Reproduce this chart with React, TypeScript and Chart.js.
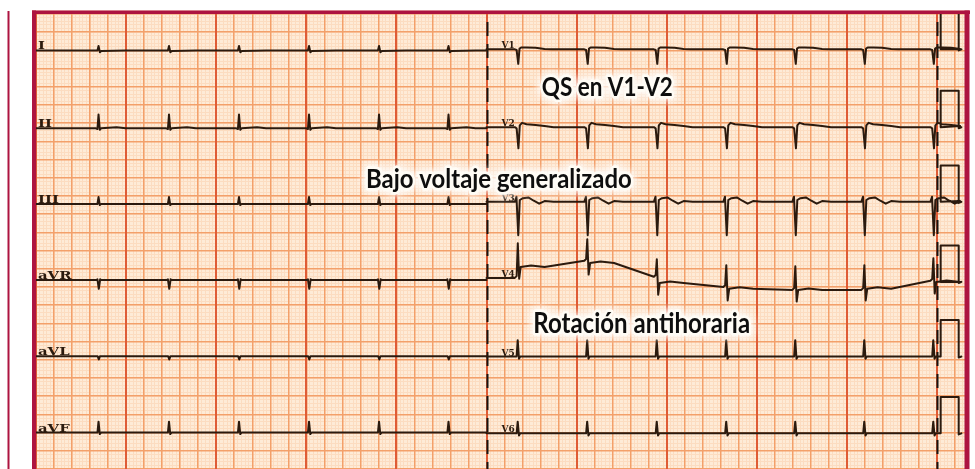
import React, { useEffect, useRef } from "react";
import { Chart, registerables } from "chart.js";

Chart.register(...registerables);

// ---------------- data (time in seconds, amplitude in mV) ----------------
const LEFT_LEADS = ["I", "II", "III", "aVR", "aVL", "aVF"];
const RIGHT_LEADS = ["V1", "V2", "V3", "V4", "V5", "V6"];

// baseline level of each row on the paper (mV from the bottom edge)
const LEFT_BASELINES = [11.5, 9.36, 7.28, 5.19, 3.1, 1.0];
const RIGHT_BASELINES = [11.53, 9.39, 7.34, 5.25, 3.09, 0.98];

// R-wave times (s)
const LEFT_BEATS = [0.694, 1.476, 2.253, 3.03, 3.807, 4.578];
const RIGHT_BEATS = [5.344, 6.115, 6.887, 7.658, 8.424, 9.19, 9.956];

const LEFT_START = 0;
const LEFT_END = 5;
const RIGHT_START = 5;
const CAL_ON = 10.04;
const CAL_OFF = 10.24;
const RIGHT_END = 10.27;
const CAL_MV = 1.0;

// one complex per lead: [time offset from R (s), amplitude (mV)]
const T_I = [[-0.03, 0], [-0.012, 0], [0.0, 0.12], [0.015, -0.05], [0.03, -0.015], [0.3, 0]];
const T_II = [[-0.03, 0], [-0.012, -0.02], [0.0, 0.38], [0.014, -0.04], [0.028, 0], [0.2, 0.03], [0.3, 0]];
const T_III = [[-0.03, 0], [-0.012, 0], [0.0, 0.19], [0.014, -0.03], [0.028, 0], [0.3, 0]];
const T_AVR = [[-0.03, 0], [-0.012, 0.02], [0.003, -0.24], [0.018, 0.02], [0.03, 0], [0.3, 0]];
const T_AVL = [[-0.03, 0], [-0.01, 0], [0.003, -0.09], [0.016, 0], [0.3, 0]];
const T_AVF = [[-0.03, 0], [-0.012, 0], [0.0, 0.3], [0.014, -0.04], [0.028, 0], [0.3, 0]];

const T_V1 = [[-0.03, 0], [-0.01, -0.02], [0.008, -0.4], [0.022, 0.02], [0.04, 0.05], [0.1, 0.05], [0.2, 0.04], [0.3, 0.01], [0.38, 0]];
const T_V2 = [[-0.03, 0], [-0.01, -0.03], [0.01, -0.58], [0.025, 0.05], [0.05, 0.12], [0.1, 0.08], [0.2, 0.06], [0.3, 0.03], [0.4, 0]];
const T_V3 = [[-0.03, 0], [-0.012, 0.14], [0.008, -0.92], [0.025, 0.05], [0.06, 0.1], [0.12, 0.12], [0.18, 0.03], [0.24, -0.05], [0.3, 0.02], [0.4, 0]];
const T_V4 = [[-0.03, 0], [-0.01, 0.05], [0.003, 0.65], [0.018, -0.32], [0.035, 0], [0.15, 0.04], [0.3, 0]];
const T_V5 = [[-0.03, 0], [-0.01, 0], [0.002, 0.45], [0.016, -0.06], [0.03, 0], [0.35, 0]];
const T_V6 = [[-0.03, 0], [-0.01, 0], [0.002, 0.32], [0.016, -0.06], [0.03, 0], [0.35, 0]];

const LEFT_TEMPLATES = [T_I, T_II, T_III, T_AVR, T_AVL, T_AVF];
const RIGHT_TEMPLATES = [T_V1, T_V2, T_V3, T_V4, T_V5, T_V6];

// baseline wander of V4 (level before / after each beat, mV)
const V4_PRE = [0, 0.47, 0.03, -0.25, -0.33, -0.33, -0.08];
const V4_POST = [0.3, 0.41, -0.14, -0.3, -0.33, -0.3, -0.11];

// annotations: text, left (s), right (s), baseline (mV), font size
const NOTES = ["QS en V1-V2", "Bajo voltaje generalizado", "Rotación antihoraria"];
const NOTE_LEFT = [5.613, 3.663, 5.519];
const NOTE_RIGHT = [7.067, 6.611, 7.925];
const NOTE_BASE = [10.26, 7.72, 3.728];
const NOTE_SIZE = [27, 27, 28];

// paper extent
const X_MAX = 10.31;
const Y_MAX = 12.5;

// ---------------- styles ----------------
const PAPER = "#feebd7";
const MINOR = "#fcdcc0";
const MEDIUM = "#f3a06a";
const HEAVY = "#df5c36";
const TRACE = "#2b1a0e";
const FRAME = "#ad1440";

type Pt = { x: number; y: number };

function buildTrace(
  base: number,
  beats: number[],
  tpl: number[][],
  t0: number,
  t1: number,
  pre: number[] | null,
  post: number[] | null,
  cal: boolean
): Pt[] {
  const pts: Pt[] = [{ x: t0, y: base + (pre ? pre[0] : 0) }];
  beats.forEach((b, i) => {
    tpl.forEach(([dt, a]) => {
      const t = b + dt;
      if (t <= t0 || t >= t1) return;
      const lvl = dt <= 0 ? (pre ? pre[i] : 0) : post ? post[i] : 0;
      pts.push({ x: t, y: base + lvl + a });
    });
  });
  const endLvl = post ? post[post.length - 1] : 0;
  if (cal) {
    pts.push({ x: CAL_ON, y: base + endLvl });
    pts.push({ x: CAL_ON, y: base + endLvl + CAL_MV });
    pts.push({ x: CAL_OFF, y: base + endLvl + CAL_MV });
    pts.push({ x: CAL_OFF, y: base + endLvl - 0.03 });
    pts.push({ x: RIGHT_END, y: base + endLvl });
  } else {
    pts.push({ x: t1, y: base + endLvl });
  }
  return pts;
}

function gridAxis(axis: "x" | "y", step: number, color: string, width: number, z: number, max: number) {
  return {
    type: "linear",
    axis,
    position: axis === "x" ? "bottom" : "left",
    min: 0,
    max,
    ticks: { display: false, stepSize: step, includeBounds: false },
    grid: { color, lineWidth: width, drawTicks: false, z },
    border: { display: false },
  } as any;
}

const paperPlugin = {
  id: "paper",
  beforeDraw(chart: any) {
    const { ctx, chartArea: a } = chart;
    ctx.save();
    ctx.fillStyle = "#ffffff";
    ctx.fillRect(0, 0, chart.width, chart.height);
    ctx.fillStyle = PAPER;
    ctx.fillRect(a.left - 4, a.top - 4, a.right - a.left + 8, a.bottom - a.top + 4);
    ctx.restore();
  },
  beforeDatasetsDraw(chart: any) {
    const { ctx, chartArea: a, scales } = chart;
    ctx.save();
    ctx.strokeStyle = "#181410";
    ctx.lineWidth = 2;
    ctx.setLineDash([14, 8]);
    ctx.lineDashOffset = 14;
    [LEFT_END, 10].forEach((t) => {
      const x = Math.round(scales.x.getPixelForValue(t)) + 0.5;
      ctx.beginPath();
      ctx.moveTo(x, a.top);
      ctx.lineTo(x, a.bottom);
      ctx.stroke();
    });
    ctx.restore();
  },
  afterDatasetsDraw(chart: any) {
    const { ctx, scales } = chart;
    const xs = scales.x;
    const ys = scales.y;
    ctx.save();
    // lead labels
    ctx.fillStyle = "#2a1a0e";
    ctx.textBaseline = "alphabetic";
    ctx.textAlign = "left";
    LEFT_LEADS.forEach((name, i) => {
      ctx.save();
      ctx.font = "bold 11px 'DejaVu Serif'";
      ctx.translate(xs.getPixelForValue(LEFT_START) + 2, ys.getPixelForValue(LEFT_BASELINES[i]) - 1);
      ctx.scale(1.35, 1);
      ctx.fillText(name, 0, 0);
      ctx.restore();
    });
    RIGHT_LEADS.forEach((name, i) => {
      ctx.save();
      ctx.font = "bold 9px 'DejaVu Serif'";
      ctx.translate(xs.getPixelForValue(RIGHT_START) + 15, ys.getPixelForValue(RIGHT_BASELINES[i]) - 1);
      ctx.fillText(name, 0, 0);
      ctx.restore();
    });
    // annotations
    NOTES.forEach((text, i) => {
      const l = xs.getPixelForValue(NOTE_LEFT[i]);
      const r = xs.getPixelForValue(NOTE_RIGHT[i]);
      const b = ys.getPixelForValue(NOTE_BASE[i]);
      ctx.save();
      ctx.font = `bold ${NOTE_SIZE[i]}px Lato`;
      const w = ctx.measureText(text).width;
      ctx.translate(l, b);
      ctx.scale((r - l) / w, 1);
      ctx.lineJoin = "round";
      ctx.shadowColor = "rgba(255,255,255,1)";
      ctx.shadowBlur = 10;
      ctx.strokeStyle = "rgba(255,252,244,0.95)";
      ctx.lineWidth = 5;
      ctx.strokeText(text, 0, 0);
      ctx.strokeText(text, 0, 0);
      ctx.shadowBlur = 0;
      ctx.fillStyle = "#0e0e0e";
      ctx.fillText(text, 0, 0);
      ctx.restore();
    });
    ctx.restore();
  },
  afterDraw(chart: any) {
    const { ctx, chartArea: a } = chart;
    ctx.save();
    ctx.fillStyle = FRAME;
    ctx.fillRect(7.5, a.top - 3, 2, chart.height - a.top + 3);
    ctx.fillRect(a.left - 4, a.top - 3.5, 4, a.bottom - a.top + 3.5);
    ctx.fillRect(a.left - 4, a.top - 3.5, a.right - a.left + 9, 3.5);
    ctx.fillRect(a.right - 0.5, a.top - 3.5, 5, a.bottom - a.top + 3.5);
    ctx.restore();
  },
};

export default function App() {
  const ref = useRef<HTMLCanvasElement>(null);
  useEffect(() => {
    const canvas = ref.current;
    if (!canvas) return;
    const datasets: any[] = [];
    LEFT_LEADS.forEach((name, i) => {
      datasets.push({
        label: name,
        data: buildTrace(LEFT_BASELINES[i], LEFT_BEATS, LEFT_TEMPLATES[i], LEFT_START, LEFT_END, null, null, false),
      });
    });
    RIGHT_LEADS.forEach((name, i) => {
      const isV4 = name === "V4";
      datasets.push({
        label: name,
        data: buildTrace(
          RIGHT_BASELINES[i],
          RIGHT_BEATS,
          RIGHT_TEMPLATES[i],
          RIGHT_START,
          RIGHT_END,
          isV4 ? V4_PRE : null,
          isV4 ? V4_POST : null,
          true
        ),
      });
    });
    datasets.forEach((d) => {
      d.borderColor = TRACE;
      d.borderWidth = 2;
      d.pointRadius = 0;
      d.fill = false;
      d.tension = 0;
      d.xAxisID = "x";
      d.yAxisID = "y";
      d.borderJoinStyle = "round";
      d.borderCapStyle = "round";
    });
    const chart = new Chart(canvas, {
      type: "line",
      data: { datasets },
      options: {
        animation: false,
        responsive: false,
        devicePixelRatio: 1,
        events: [],
        layout: { padding: { left: 36, right: 10, top: 14, bottom: 0 } },
        plugins: { legend: { display: false }, tooltip: { enabled: false }, title: { display: false } },
        scales: {
          xMinor: gridAxis("x", 0.04, MINOR, 1, -3, X_MAX),
          yMinor: gridAxis("y", 0.1, MINOR, 1, -3, Y_MAX),
          x: gridAxis("x", 0.2, MEDIUM, 1.5, -2, X_MAX),
          y: gridAxis("y", 0.5, MEDIUM, 1.5, -2, Y_MAX),
          xMajor: gridAxis("x", 1, HEAVY, 2, -1, X_MAX),
        },
      } as any,
      plugins: [paperPlugin as any],
    });
    return () => chart.destroy();
  }, []);
  return (
    <div style={{ position: "fixed", left: 0, top: 0, width: 975, height: 469, background: "#fff" }}>
      <canvas ref={ref} width={975} height={469} style={{ display: "block" }} />
    </div>
  );
}
